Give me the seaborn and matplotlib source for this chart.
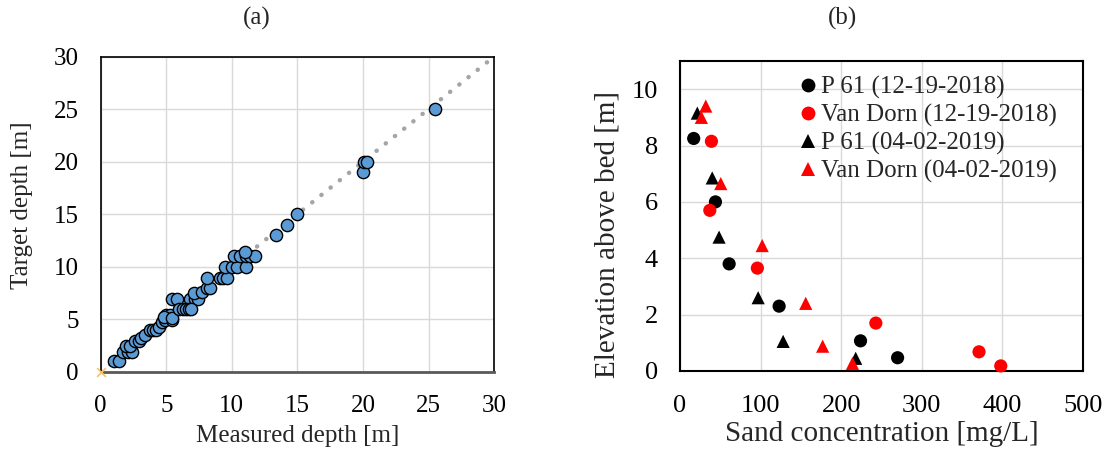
import numpy as np
import pandas as pd
import seaborn as sns
import matplotlib.pyplot as plt

# panel (a): measured vs target depth [m]
measured_depth = [1.0, 1.4, 1.7, 2.1, 2.4, 1.9, 2.2, 2.6, 2.9, 3.1, 3.4,
                  3.75, 4.0, 4.25, 4.45, 4.65, 4.9, 5.0, 5.3, 5.4, 4.8, 5.4,
                  5.4, 5.8, 6.8, 7.2, 7.4, 6.0, 6.3, 6.5, 6.7, 6.9,
                  7.1, 7.7, 8.1, 8.3, 8.1, 9.1, 9.3, 9.6,
                  9.5, 10.0, 10.4, 11.1, 10.2, 10.6, 11.1, 11.4, 11.8, 11.0,
                  13.4, 14.2, 15.0, 20.0, 20.1, 20.3, 25.5]
target_depth = [1.0, 1.0, 1.9, 1.9, 1.9, 2.4, 2.4, 2.9, 2.9, 3.2, 3.5,
                4.0, 4.0, 4.0, 4.3, 4.75, 4.9, 5.4, 5.4, 4.9, 5.2, 5.1,
                6.9, 6.9, 6.9, 6.9, 6.9, 6.0, 6.0, 6.0, 6.0, 6.0,
                7.5, 7.6, 8.0, 8.0, 8.9, 8.9, 8.9, 8.9,
                10.0, 10.0, 10.0, 10.0, 11.0, 11.0, 11.0, 11.0, 11.0, 11.4,
                13.0, 14.0, 15.0, 19.0, 20.0, 20.0, 25.0]
one_to_one = [0, 30]

# panel (b): sand concentration [mg/L] vs elevation above bed [m]
p61_2018_conc = [17, 44, 61, 123, 224, 270]
p61_2018_elev = [8.25, 6.0, 3.8, 2.3, 1.07, 0.47]
vd_2018_conc = [39, 37, 96, 243, 371, 398]
vd_2018_elev = [8.15, 5.7, 3.65, 1.7, 0.68, 0.18]
p61_2019_conc = [21.5, 40, 48.5, 97, 128, 218]
p61_2019_elev = [9.15, 6.85, 4.75, 2.6, 1.05, 0.45]
vd_2019_conc = [32, 26.5, 50.6, 102, 156, 177, 214]
vd_2019_elev = [9.4, 9.0, 6.65, 4.45, 2.4, 0.88, 0.27]
series_names = ["P 61 (12-19-2018)", "Van Dorn (12-19-2018)",
                "P 61 (04-02-2019)", "Van Dorn (04-02-2019)"]

sns.set_theme(style="whitegrid")
plt.rcParams['font.family'] = ['Liberation Serif', 'DejaVu Serif']
plt.rcParams['font.size'] = 18

fig = plt.figure(figsize=(11.12, 4.62), dpi=100)
ax1 = fig.add_axes([0.0906, 0.1955, 0.3537, 0.6818])
ax2 = fig.add_axes([0.6115, 0.197, 0.3624, 0.671])

# ---- (a)
ax1.plot(one_to_one, one_to_one, color="#a5a5a5", lw=3.2,
         linestyle=(0, (0.05, 2.6)), dash_capstyle="round", zorder=2)
ax1.scatter(one_to_one[:1], one_to_one[:1], marker="x", s=40,
            color="#f5c26b", lw=1.2, zorder=3, clip_on=False)
df_a = pd.DataFrame({"measured": measured_depth, "target": target_depth})
sns.scatterplot(data=df_a, x="measured", y="target", ax=ax1, s=78,
                color="#5b9bd5", edgecolor="black", linewidth=1.0, zorder=4)
ax1.set_xlim(0, 30)
ax1.set_ylim(0, 30)
ax1.set_xticks(range(0, 31, 5))
ax1.set_yticks(range(0, 31, 5))
ax1.set_xlabel("Measured depth [m]", fontsize=18)
ax1.set_ylabel("Target depth [m]", fontsize=18)
ax1.xaxis.set_label_coords(0.5, -0.17)
ax1.yaxis.set_label_coords(-0.171, 0.53)
ax1.tick_params(labelsize=18)
for side in ["top", "right", "left"]:
    ax1.spines[side].set_color("black")
    ax1.spines[side].set_linewidth(1.2)
ax1.spines["bottom"].set_color("#595959")
ax1.spines["bottom"].set_linewidth(2)

# ---- (b)
df_b = pd.DataFrame({
    "conc": p61_2018_conc + vd_2018_conc + p61_2019_conc + vd_2019_conc,
    "elev": p61_2018_elev + vd_2018_elev + p61_2019_elev + vd_2019_elev,
    "series": [series_names[0]] * len(p61_2018_conc)
              + [series_names[1]] * len(vd_2018_conc)
              + [series_names[2]] * len(p61_2019_conc)
              + [series_names[3]] * len(vd_2019_conc),
})
palette = {series_names[0]: "black", series_names[1]: "#ff0000",
           series_names[2]: "black", series_names[3]: "#ff0000"}
markers = {series_names[0]: "o", series_names[1]: "o",
           series_names[2]: "^", series_names[3]: "^"}
sns.scatterplot(data=df_b, x="conc", y="elev", hue="series", style="series",
                hue_order=series_names, style_order=series_names,
                palette=palette, markers=markers, s=90, linewidth=0,
                ax=ax2, zorder=4, clip_on=False)
ax2.set_xlim(0, 500)
ax2.set_ylim(0, 11)
ax2.set_xticks(range(0, 501, 100))
ax2.set_yticks(range(0, 11, 2))
ax2.set_xlabel("Sand concentration [mg/L]", fontsize=21)
ax2.set_ylabel("Elevation above bed [m]", fontsize=21)
ax2.xaxis.set_label_coords(0.5, -0.16)
ax2.yaxis.set_label_coords(-0.148, 0.44)
ax2.tick_params(labelsize=19)
for side in ["top", "right", "left", "bottom"]:
    ax2.spines[side].set_color("black")
    ax2.spines[side].set_linewidth(1.5)
handles, labels = ax2.get_legend_handles_labels()
ax2.legend(handles, labels, loc="upper left", bbox_to_anchor=(0.23, 0.985),
           frameon=False, fontsize=18, handletextpad=-0.45,
           labelspacing=0.2, borderaxespad=0, markerscale=1.05)

for ax in (ax1, ax2):
    ax.grid(True, color="#d9d9d9", lw=1)
    ax.tick_params(axis="both", length=0, colors="black")
    ax.tick_params(axis="x", pad=17)
    ax.tick_params(axis="y", pad=16)
    ax.set_facecolor("white")

fig.text(0.231, 0.96, "(a)", ha="center", va="center", fontsize=18)
fig.text(0.758, 0.96, "(b)", ha="center", va="center", fontsize=18)

fig.savefig("out.png", dpi=100, facecolor="white")
